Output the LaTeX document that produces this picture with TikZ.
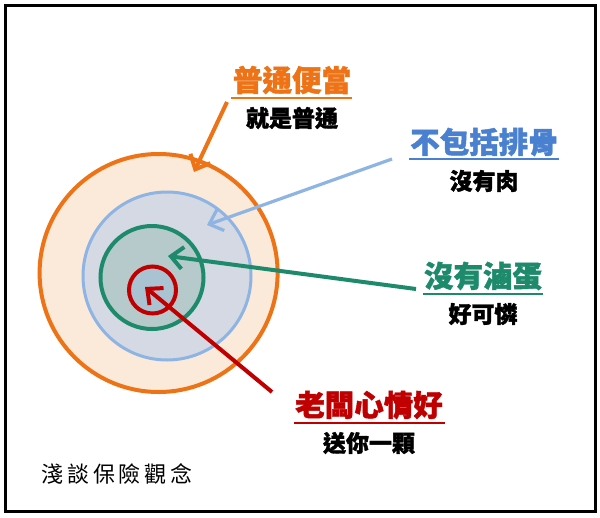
\documentclass[tikz,border=0pt]{standalone}
\usepackage{fontspec}
\newfontfamily\cjk{Noto Sans CJK TC}[BoldFeatures={FakeBold=1.5}]
\usetikzlibrary{arrows.meta}
\definecolor{cor}{HTML}{EE7316}
\definecolor{corf}{HTML}{FBEAD9}
\definecolor{cbl}{HTML}{8EB4E3}
\definecolor{cblf}{HTML}{D4D9E3}
\definecolor{cblt}{HTML}{4A80D0}
\definecolor{cgr}{HTML}{1E8A6C}
\definecolor{cgrf}{HTML}{B6CACB}
\definecolor{crd}{HTML}{C00000}
\definecolor{crdf}{HTML}{A9C3D2}
\tikzset{
  ring/.style={circle, inner sep=0pt, line width=4pt},
  ptr/.style={line width=4pt, -{Straight Barb[length=12pt,width=22pt,line width=4pt]}},
  ptrthin/.style={line width=3.2pt, -{Straight Barb[length=12pt,width=22pt,line width=3.2pt]}},
  ttl/.style={font=\cjk\bfseries\fontsize{29.5}{31}\selectfont, inner sep=0pt},
  sub/.style={font=\cjk\bfseries\fontsize{23}{25}\selectfont, inner sep=0pt, text=black},
  uline/.style={line width=1.6pt}
}
\begin{document}
\begin{tikzpicture}[x=1pt,y=-1pt]
\useasboundingbox (0,0) rectangle (600,517);
\fill[white] (0,0) rectangle (600,517);
\draw[line width=2.5pt] (5.5,5.5) rectangle (595.5,511.5);
% rings
\node[ring, draw=cor, fill=corf, minimum size=238pt] (c1) at (158.6,273) {};
\node[ring, draw=cbl, fill=cblf, minimum size=168pt, line width=3pt] (c2) at (167,276) {};
\node[ring, draw=cgr, fill=cgrf, minimum size=103pt] (c3) at (152,277.5) {};
\node[ring, draw=crd, fill=crdf, minimum size=47pt] (c4) at (152.5,290) {};
% titles
\node[ttl, text=cor] (t1) at (292,80) {普通便當};
\node[sub] (s1) at (292,118) {就是普通};
\node[ttl, text=cblt] (t2) at (484,142) {不包括排骨};
\node[sub] (s2) at (484,181) {沒有肉};
\node[ttl, text=cgr] (t3) at (483,276) {沒有滷蛋};
\node[sub] (s3) at (483,314) {好可憐};
\node[ttl, text=crd] (t4) at (369,405) {老闆心情好};
\node[sub] (s4) at (369,443) {送你一顆};
\node[font=\cjk\fontsize{22}{24}\selectfont, inner sep=0pt] (ft) at (117,474) {淺\,談\,保\,險\,觀\,念};
% underlines
\draw[uline, cor] (231,98) -- (352,98);
\draw[uline, cblt] (409,159) -- (559,159);
\draw[uline, cgr] (423,294) -- (543,294);
\draw[uline, crd] (294,423) -- (445,423);
% arrows
\coordinate (a1) at (227,102); \coordinate (b1) at (194,172);
\coordinate (a2) at (392,159); \coordinate (b2) at (207,225);
\coordinate (a3) at (416,289); \coordinate (b3) at (168,256);
\coordinate (a4) at (272,392); \coordinate (b4) at (145,287);
\draw[ptr, cor] (a1) -- (b1);
\draw[ptrthin, cbl] (a2) -- (b2);
\draw[ptr, cgr] (a3) -- (b3);
\draw[ptr, crd] (a4) -- (b4);
\end{tikzpicture}
\end{document}
